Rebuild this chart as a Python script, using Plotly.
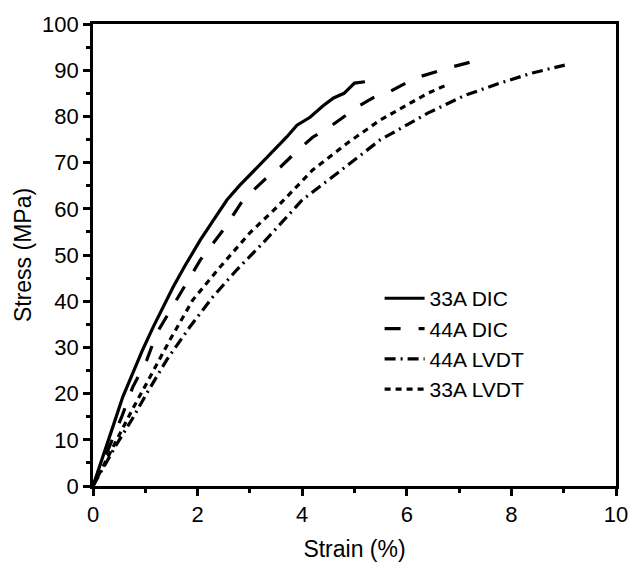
import plotly.graph_objects as go

# 33A DIC (solid)
dic33_x = [0, 0.1, 0.25, 0.4, 0.57, 0.76, 0.95, 1.15, 1.35, 1.53, 1.75, 2.05, 2.3, 2.56, 2.8, 3.14, 3.45, 3.7, 3.9, 4.15, 4.4, 4.6, 4.8, 5.0, 5.2]
dic33_y = [0, 3.5, 8.5, 13.5, 19.3, 24.5, 29.5, 34.4, 39.0, 43.0, 47.5, 53.2, 57.5, 61.9, 65.0, 69.0, 72.5, 75.5, 78.1, 79.8, 82.3, 84.0, 85.0, 87.2, 87.5]

# 44A DIC (dashed)
dic44_x = [0, 0.15, 0.35, 0.55, 0.76, 1.03, 1.22, 1.6, 2.05, 2.49, 2.87, 3.3, 3.58, 3.9, 4.2, 4.5, 4.78, 5.05, 5.35, 5.7, 6.16, 6.5, 6.9, 7.2]
dic44_y = [0, 4.0, 9.5, 15.0, 21.4, 27.3, 33.1, 40.3, 48.9, 55.4, 61.9, 66.5, 69.0, 72.5, 75.5, 77.5, 79.9, 82.0, 84.0, 85.5, 88.3, 89.5, 90.8, 91.7]

# 44A LVDT (dash-dot)
lvdt44_x = [0, 0.2, 0.45, 0.75, 1.03, 1.41, 1.85, 2.29, 2.75, 3.25, 3.7, 4.0, 4.67, 5.49, 6.4, 7.1, 7.78, 8.4, 9.02]
lvdt44_y = [0, 4.0, 9.0, 14.5, 20.1, 27.3, 34.4, 40.9, 46.8, 52.6, 58.2, 61.9, 67.7, 74.9, 80.7, 84.5, 87.2, 89.4, 91.1]

# 33A LVDT (dotted)
lvdt33_x = [0, 0.2, 0.45, 0.75, 1.09, 1.47, 1.91, 2.43, 3.0, 3.52, 4.2, 4.86, 5.49, 6.0, 6.4, 6.8]
lvdt33_y = [0, 4.5, 10.0, 16.5, 23.6, 31.6, 40.3, 47.4, 54.8, 60.4, 68.4, 74.2, 79.2, 82.5, 85.0, 87.0]

x_ticks = [0, 2, 4, 6, 8, 10]
y_ticks = [0, 10, 20, 30, 40, 50, 60, 70, 80, 90, 100]

fig = go.Figure()
lw = 3.2
fig.add_trace(go.Scatter(x=dic33_x, y=dic33_y, mode="lines", name="33A DIC",
                         line=dict(color="black", width=lw, dash="solid")))
fig.add_trace(go.Scatter(x=dic44_x, y=dic44_y, mode="lines", name="44A DIC",
                         line=dict(color="black", width=lw, dash="16px,18px")))
fig.add_trace(go.Scatter(x=lvdt44_x, y=lvdt44_y, mode="lines", name="44A LVDT",
                         line=dict(color="black", width=lw, dash="11px,5px,2px,5px")))
fig.add_trace(go.Scatter(x=lvdt33_x, y=lvdt33_y, mode="lines", name="33A LVDT",
                         line=dict(color="black", width=lw, dash="6px,5px")))

fam = "Liberation Sans, Arial, sans-serif"
tick_font = dict(family=fam, size=22, color="black")
title_font = dict(family=fam, size=23, color="black")
legend_font = dict(family=fam, size=21, color="black")
axis_common = dict(showline=True, linecolor="black", linewidth=2.8, mirror=True,
                   ticks="outside", ticklen=7, tickwidth=2.8, tickcolor="black",
                   showgrid=False, zeroline=False, tickfont=tick_font, automargin=False)

fig.update_xaxes(range=[0, 10], tickvals=x_ticks, ticktext=[str(v) for v in x_ticks],
                 title=dict(text="Strain (%)", font=title_font, standoff=15),
                 minor=dict(dtick=1, ticks="outside", ticklen=4, tickwidth=2.8, tickcolor="black", showgrid=False),
                 **axis_common)
fig.update_yaxes(range=[0, 100], tickvals=y_ticks, ticktext=[str(v) for v in y_ticks],
                 title=dict(text="Stress (MPa)", font=title_font, standoff=4),
                 minor=dict(dtick=5, ticks="outside", ticklen=4, tickwidth=2.8, tickcolor="black", showgrid=False),
                 **axis_common)

fig.update_layout(
    width=633, height=567,
    margin=dict(l=93, r=17, t=24, b=81),
    paper_bgcolor="white", plot_bgcolor="white",
    font=tick_font,
    legend=dict(x=0.548, y=0.45, xanchor="left", yanchor="top",
                bgcolor="rgba(0,0,0,0)", font=legend_font, tracegroupgap=0,
                itemwidth=40),
    showlegend=True,
)

fig.write_html("out.html")
